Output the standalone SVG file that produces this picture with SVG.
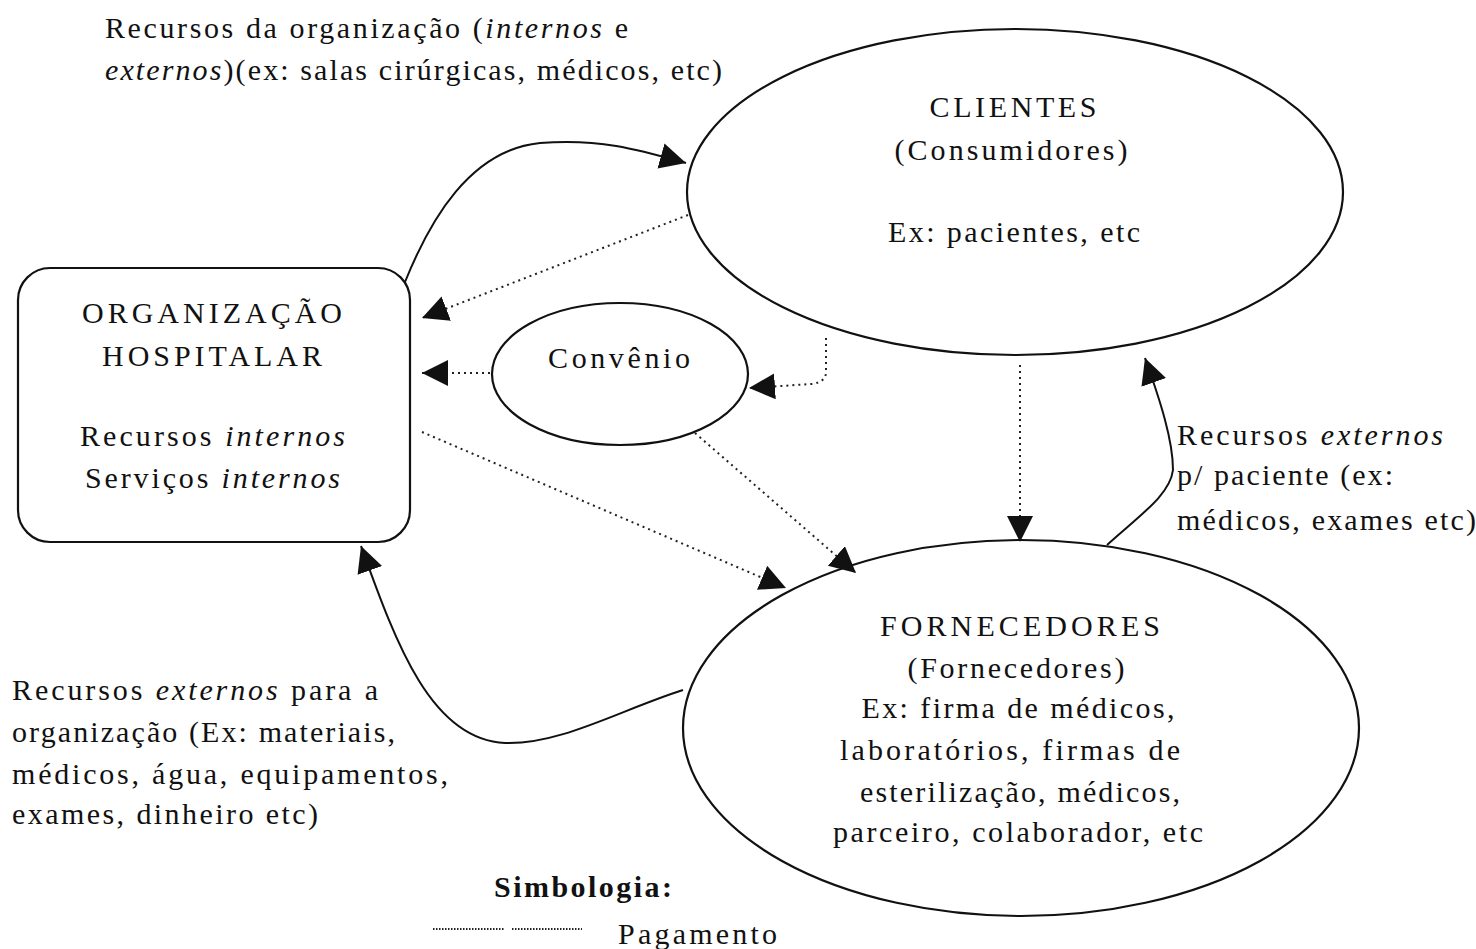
<svg xmlns="http://www.w3.org/2000/svg" width="1476" height="949" viewBox="0 0 1476 949">
<style>
text{font-family:"Liberation Serif","Times New Roman",serif;font-size:30px;fill:#111}
.c{text-anchor:middle}
.i{font-style:italic}
.shape{fill:#fff;stroke:#111;stroke-width:2.2}
.solid{fill:none;stroke:#111;stroke-width:2}
.dot{fill:none;stroke:#222;stroke-width:2;stroke-dasharray:2 4}
</style>
<defs>
<marker id="ah" markerUnits="userSpaceOnUse" markerWidth="30" markerHeight="30" refX="26" refY="13" orient="auto">
<path d="M0,0 L26,13 L0,26 Z" fill="#111"/>
</marker>
</defs>
<rect width="1476" height="949" fill="#fff"/>

<g id="org">
<rect class="shape" x="18" y="268" width="392" height="274" rx="32"/>
<text class="c" x="212" y="323" textLength="260">ORGANIZAÇÃO</text>
<text class="c" x="212" y="366" textLength="220">HOSPITALAR</text>
<text x="80" y="446" textLength="265">Recursos <tspan class="i">internos</tspan></text>
<text x="85" y="488" textLength="255">Serviços <tspan class="i">internos</tspan></text>
</g>

<g id="clientes">
<ellipse class="shape" cx="1015" cy="192" rx="328" ry="163"/>
<text class="c" x="1013" y="117" textLength="167">CLIENTES</text>
<text class="c" x="1011" y="160" textLength="233">(Consumidores)</text>
<text class="c" x="1014" y="242" textLength="252">Ex: pacientes, etc</text>
</g>

<g id="convenio">
<ellipse class="shape" cx="620" cy="374" rx="128" ry="71"/>
<text class="c" x="619" y="368" textLength="142">Convênio</text>
</g>

<g id="fornecedores">
<ellipse class="shape" cx="1021" cy="728" rx="338" ry="188"/>
<text class="c" x="1020" y="636" textLength="280">FORNECEDORES</text>
<text class="c" x="1016" y="678" textLength="217">(Fornecedores)</text>
<text class="c" x="1018" y="718" textLength="313">Ex: firma de médicos,</text>
<text class="c" x="1010" y="760" textLength="340">laboratórios, firmas de</text>
<text class="c" x="1020" y="802" textLength="320">esterilização, médicos,</text>
<text class="c" x="1018" y="842" textLength="370">parceiro, colaborador,  etc</text>
</g>

<g id="labels">
<text x="105" y="38" textLength="523">Recursos da organização (<tspan class="i">internos</tspan> e</text>
<text x="105" y="80" textLength="617"><tspan class="i">externos</tspan>)(ex: salas cirúrgicas, médicos, etc)</text>
<text x="1177" y="445" textLength="266">Recursos <tspan class="i">externos</tspan></text>
<text x="1177" y="485" textLength="216">p/ paciente (ex:</text>
<text x="1177" y="530" textLength="299">médicos, exames etc)</text>
<text x="12" y="700" textLength="366">Recursos <tspan class="i">externos</tspan> para a</text>
<text x="12" y="742" textLength="383">organização (Ex: materiais,</text>
<text x="12" y="784" textLength="436">médicos,  água, equipamentos,</text>
<text x="12" y="824" textLength="306">exames, dinheiro etc)</text>
</g>

<g id="connectors">
<path class="solid" d="M405,282 C430,220 470,150 540,143 C600,138 640,150 686,163" marker-end="url(#ah)"/>
<path class="dot" d="M688,215 L422,318" marker-end="url(#ah)"/>
<path class="dot" d="M490,373 L422,373" marker-end="url(#ah)"/>
<path class="dot" d="M826,338 L826,372 Q826,382 812,384 L749,388" marker-end="url(#ah)"/>
<path class="dot" d="M1020,365 L1020,542" marker-end="url(#ah)"/>
<path class="dot" d="M422,432 L786,588" marker-end="url(#ah)"/>
<path class="dot" d="M695,433 L856,573" marker-end="url(#ah)"/>
<path class="solid" d="M1107,545 C1140,515 1170,495 1173,470 C1173,440 1160,400 1145,358" marker-end="url(#ah)"/>
<path class="solid" d="M683,690 C620,710 560,745 505,743 C430,740 395,640 361,546" marker-end="url(#ah)"/>
</g>

<g id="legend">
<text x="494" y="897" textLength="178" style="font-weight:bold">Simbologia:</text>
<line x1="433" y1="929" x2="505" y2="929" style="stroke:#222;stroke-dasharray:1.5 1.5;stroke-width:2"/>
<line x1="512" y1="929" x2="582" y2="929" style="stroke:#222;stroke-dasharray:1.5 1.5;stroke-width:2"/>
<text x="618" y="944" textLength="159">Pagamento</text>
</g>
</svg>
